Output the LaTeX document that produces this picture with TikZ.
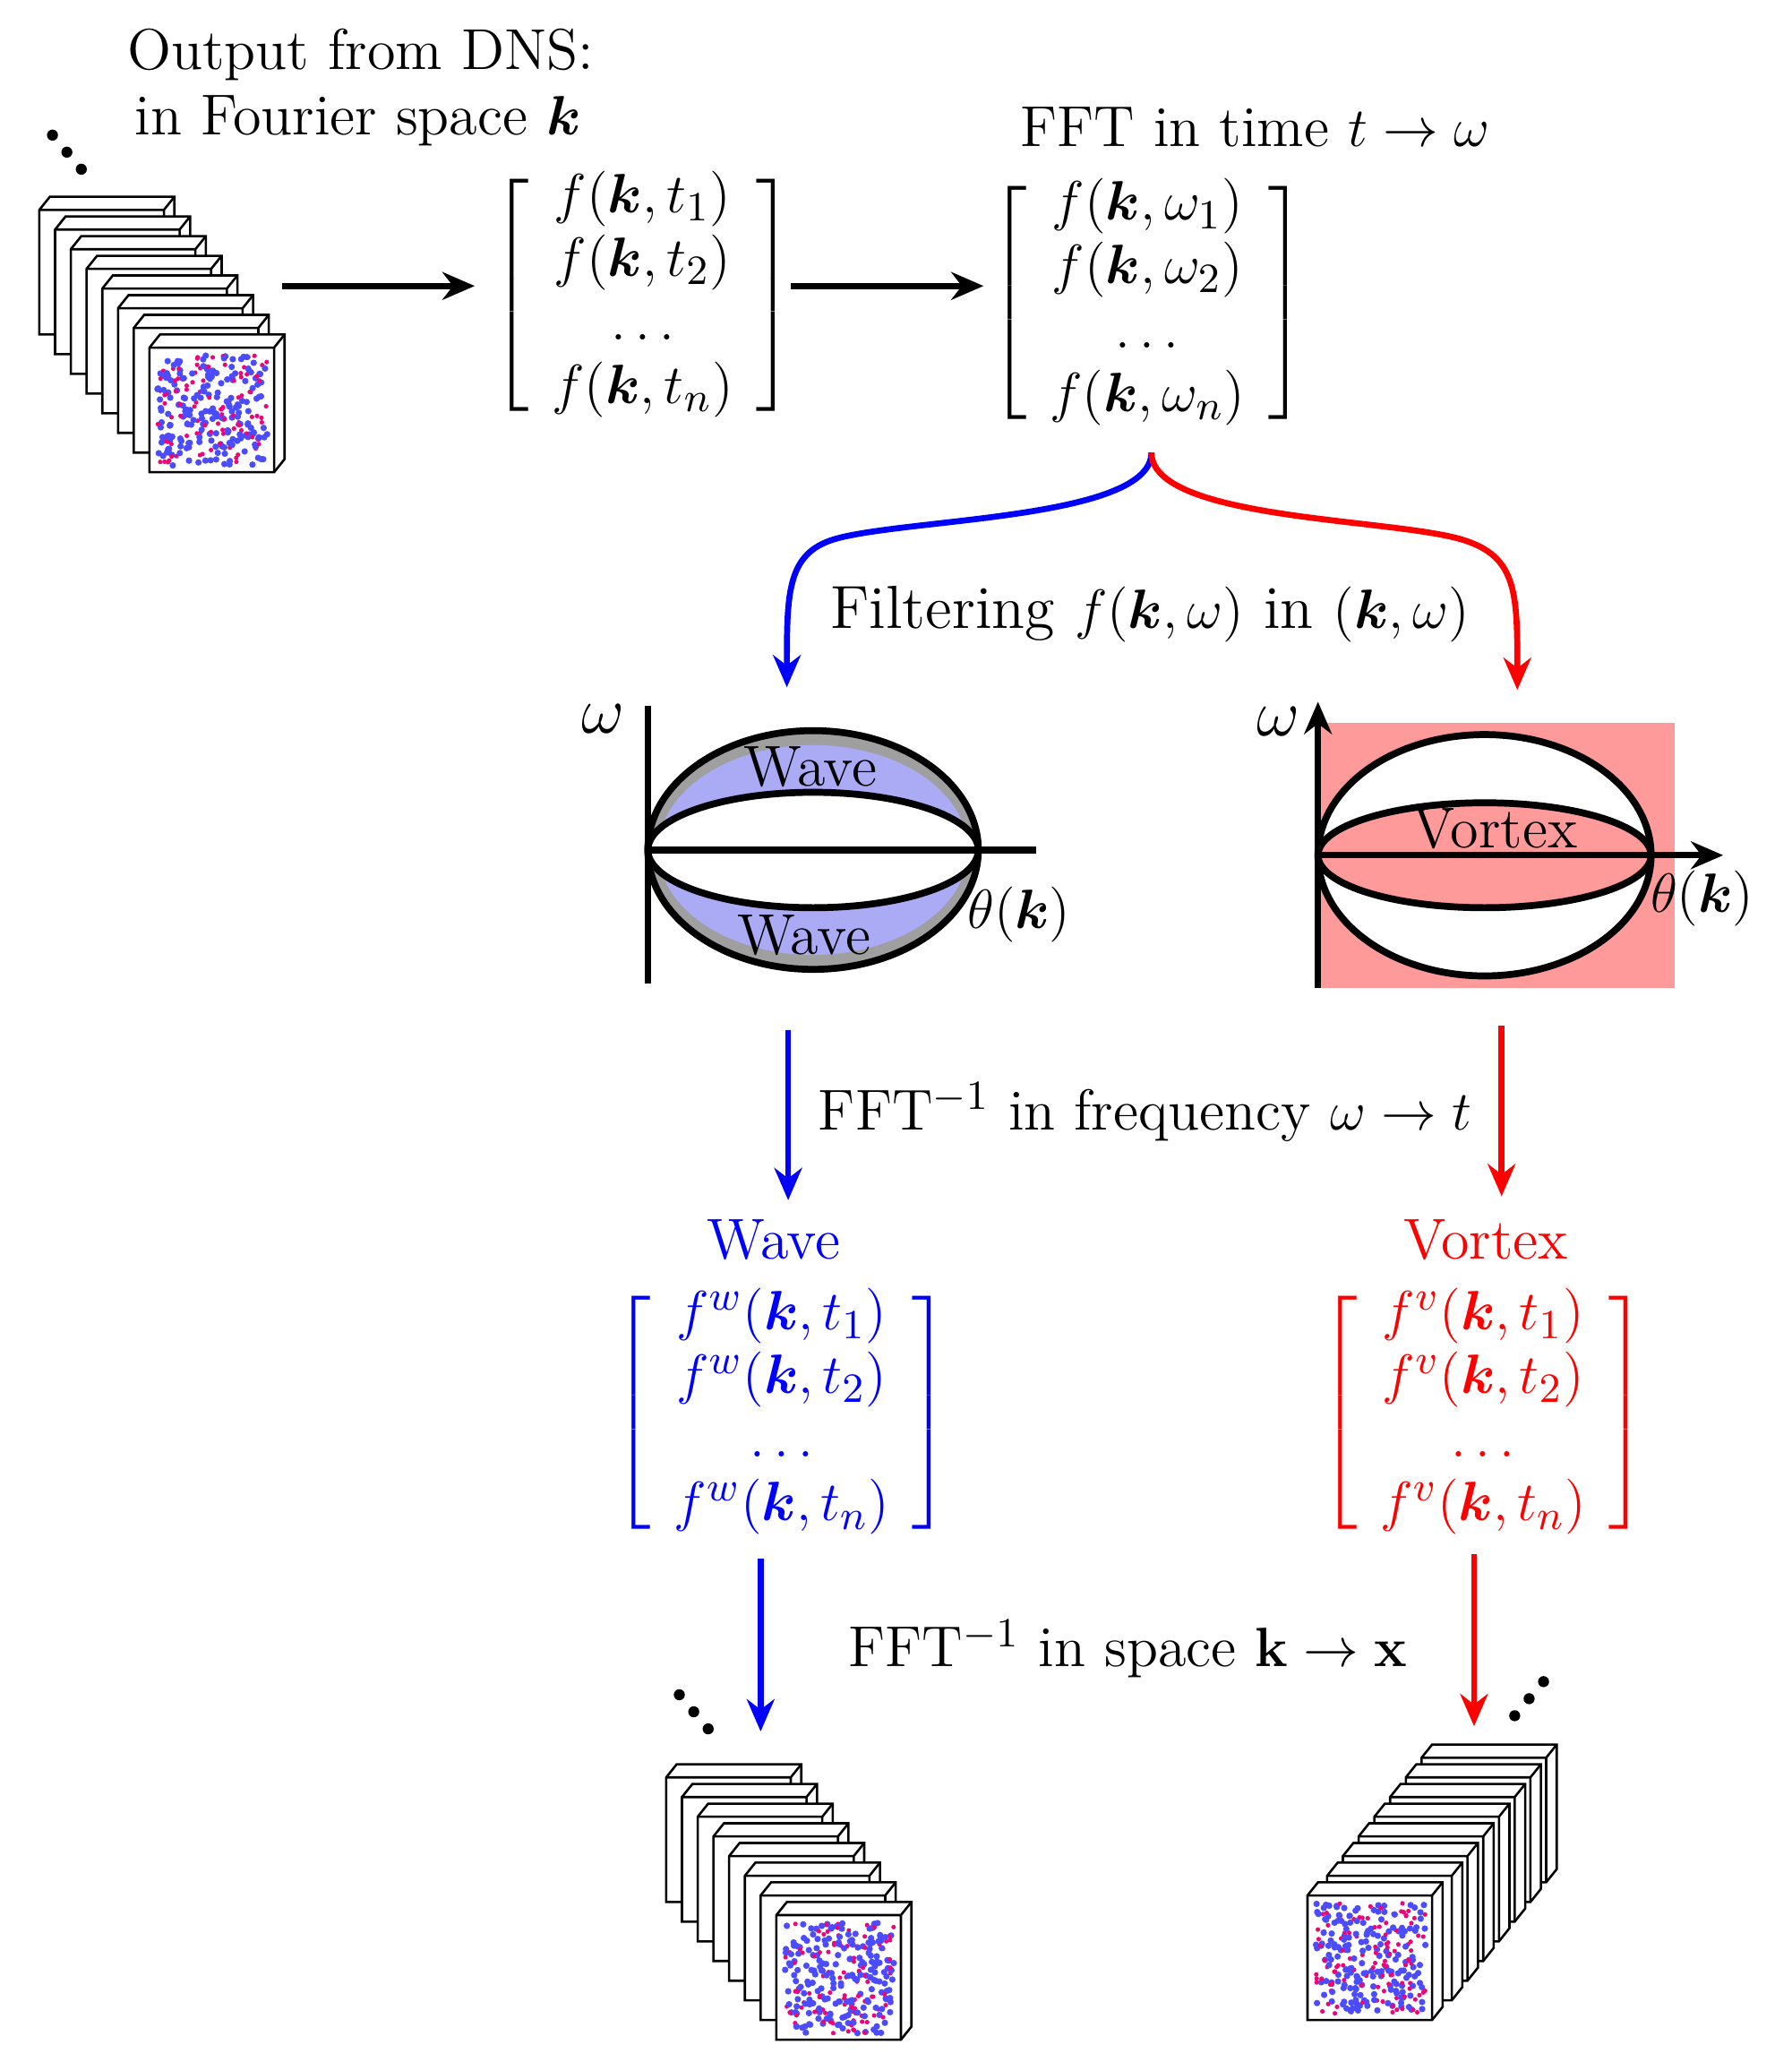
\documentclass[tikz,border=0pt]{standalone}
\usepackage{amsmath,bm}
\usetikzlibrary{arrows.meta}
\definecolor{pinkr}{HTML}{FF9A9A}
\definecolor{lav}{HTML}{AAAAF5}
\newcommand\mycube[3]{%
  \filldraw[fill=white,draw=black,line width=0.5pt] (#1,#2+10) -- (#1+8,#2) -- (#1+103,#2) -- (#1+103,#2+95) -- (#1+95,#2+105) -- (#1,#2+105) -- cycle;
  \draw[line width=0.5pt] (#1,#2+10) -- (#1+95,#2+10) -- (#1+103,#2) (#1+95,#2+10) -- (#1+95,#2+105);
  \ifnum#3=1
    \foreach \i in {1,...,300}{%
      \pgfmathsetmacro\cx{#1+48+42*rand}\pgfmathsetmacro\cy{#2+58+42*rand}%
      \pgfmathsetmacro\cc{rnd}%
      \ifdim\cc pt<0.65pt \fill[blue!70] (\cx,\cy) circle[radius=0.7pt];\else\fill[magenta!80!red] (\cx,\cy) circle[radius=0.5pt];\fi}
  \fi}
\newcommand\mydots[2]{\fill (#1,#2) circle[radius=1.2pt] (#1+11,#2+13) circle[radius=1.2pt] (#1+22,#2+26) circle[radius=1.2pt];}
\newcommand\mydotsr[2]{\fill (#1,#2) circle[radius=1.2pt] (#1+11,#2-13) circle[radius=1.2pt] (#1+22,#2-26) circle[radius=1.2pt];}
\newcommand\mymat[1]{$\renewcommand\arraystretch{0.92}\left[\begin{array}{c}#1\end{array}\right]$}
\begin{document}
\begin{tikzpicture}[x=0.01cm,y=-0.01cm,font=\fontsize{12.5}{15}\selectfont,
  arr/.style={-{Stealth[length=7pt,width=6pt]},line width=1.3pt},
  lbl/.style={inner sep=0pt}]
\useasboundingbox (0,0) rectangle (1366,1572);
\pgfmathsetseed{7}
% top-left stack
\mydots{40}{103}
\foreach \k in {0,...,6}{\mycube{30+12*\k}{150+15*\k}{0}}
\mycube{114}{255}{1}
\node[lbl] (t1) at (275,42) {Output from DNS:};
\node[lbl] (t2) at (273,92) {in Fourier space $\bm{k}$};
\node[lbl] (m1) at (490,225) {\mymat{f(\bm{k},t_1)\\ f(\bm{k},t_2)\\ \dots\\ f(\bm{k},t_n)}};
\node[lbl] (m2) at (875,231) {\mymat{f(\bm{k},\omega_1)\\ f(\bm{k},\omega_2)\\ \dots\\ f(\bm{k},\omega_n)}};
\node[lbl] (t3) at (957,97) {FFT in time $t\rightarrow\omega$};
\coordinate (s1) at (215,218); \coordinate (e1) at (362,218);
\coordinate (s2) at (603,218); \coordinate (e2) at (750,218);
\draw[arr] (s1) -- (e1);
\draw[arr] (s2) -- (e2);
% brace arrows
\coordinate (br) at (878,345);
\coordinate (bl) at (600,524); \coordinate (brr) at (1157,526);
\draw[arr,blue] (br) .. controls (878,395) and (700,395) .. (640,410) .. controls (600,420) and (600,450) .. (bl);
\draw[arr,red] (br) .. controls (878,395) and (1050,395) .. (1110,410) .. controls (1157,422) and (1157,450) .. (brr);
\node[lbl,font=\fontsize{13.2}{16}\selectfont] (t4) at (877,468) {Filtering $f(\bm{k},\omega)$ in $(\bm{k},\omega)$};
% left diagram
\fill[gray!75] (620,648) ellipse[x radius=126,y radius=91];
\fill[lav] (620,648) ellipse[x radius=118,y radius=80];
\filldraw[fill=white,line width=1.5pt] (620,648) ellipse[x radius=126,y radius=44];
\draw[line width=1.5pt] (620,648) ellipse[x radius=126,y radius=91];
\draw[line width=1.5pt] (494,538) -- (494,750) (494,648) -- (790,648);
\node[lbl] (w1) at (618,585) {Wave};
\node[lbl] (w2) at (613,713) {Wave};
\node[lbl,font=\fontsize{14}{16}\selectfont] (om1) at (460,548) {$\omega$};
\node[lbl] (th1) at (777,697) {$\theta(\bm{k})$};
% right diagram
\fill[pinkr] (1005,551) rectangle (1277,753);
\filldraw[fill=white,line width=1.5pt] (1132,652) ellipse[x radius=127,y radius=92];
\filldraw[fill=pinkr,line width=1.5pt] (1132,652) ellipse[x radius=127,y radius=40];
\draw[arr] (1005,753) -- (1005,535);
\draw[arr] (1005,652) -- (1314,652);
\node[lbl] (vx) at (1140,632) {Vortex};
\node[lbl,font=\fontsize{14}{16}\selectfont] (om2) at (975,550) {$\omega$};
\node[lbl] (th2) at (1298,685) {$\theta(\bm{k})$};
% second arrows
\draw[arr,blue] (601,785) -- (601,915);
\draw[arr,red] (1145,782) -- (1145,912);
\node[lbl] (t5) at (873,848) {FFT$^{-1}$ in frequency $\omega\rightarrow t$};
\node[lbl,blue] (wv) at (590,945) {Wave};
\node[lbl,red] (vt) at (1133,945) {Vortex};
\node[lbl,blue] (m3) at (596,1077) {\mymat{f^w(\bm{k},t_1)\\ f^w(\bm{k},t_2)\\ \dots\\ f^w(\bm{k},t_n)}};
\node[lbl,red] (m4) at (1131,1077) {\mymat{f^v(\bm{k},t_1)\\ f^v(\bm{k},t_2)\\ \dots\\ f^v(\bm{k},t_n)}};
\draw[arr,blue] (580,1188) -- (580,1320);
\draw[arr,red] (1124,1185) -- (1124,1316);
\node[lbl] (t6) at (860,1257) {FFT$^{-1}$ in space $\mathbf{k}\rightarrow\mathbf{x}$};
% bottom stacks
\mydots{518}{1292}
\foreach \k in {0,...,6}{\mycube{508+12*\k}{1345+15*\k}{0}}
\mycube{592}{1450}{1}
\mydotsr{1155}{1308}
\foreach \k in {0,...,6}{\mycube{1084-12*\k}{1330+15*\k}{0}}
\mycube{997}{1435}{1}
\end{tikzpicture}
\end{document}
